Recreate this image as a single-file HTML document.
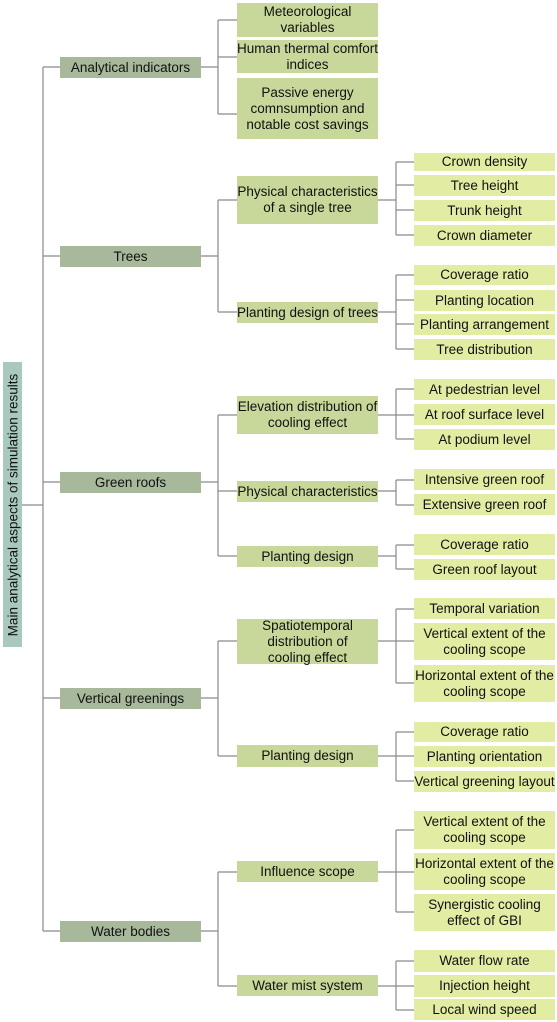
<!DOCTYPE html>
<html><head><meta charset="utf-8"><style>
body{margin:0;width:557px;height:1022px;background:#fff;position:relative;overflow:hidden;font-family:"Liberation Sans",Arial,sans-serif;font-size:13.5px;color:#111}
.b{position:absolute;display:flex;align-items:center;justify-content:center;text-align:center;line-height:16px;box-sizing:border-box;white-space:nowrap}
.l1{left:60px;width:141px;background:#a7b99a}
.l2{left:237px;width:141px;background:#c8d89a}
.l3{left:414px;width:141px;background:#e3eca3}
.l3a{left:237px;width:141px;background:#c8d89a}
svg{position:absolute;left:0;top:0}
#root{position:absolute;left:3px;top:362px;width:19px;height:285px;background:#a9c8be}
#root span{position:absolute;left:50%;top:50%;transform:translate(-50%,-50%) rotate(-90deg);white-space:nowrap;font-size:13.5px}
</style></head><body>
<svg width="557" height="1022" stroke="#8a8a8a" stroke-width="1.2" fill="none">
<path d="M22 505H43M43 67V931M43 67H60M43 256H60M43 482H60M43 698H60M43 931H60"/>
<path d="M201 67H218M218 20V114M218 20H237M218 57H237M218 114H237"/>
<path d="M201 256H218M218 200V312M218 200H237M218 312H237"/>
<path d="M378 200H396M396 162V235M396 162H414M396 185H414M396 210H414M396 235H414"/>
<path d="M378 312H396M396 275V349M396 275H414M396 300H414M396 324H414M396 349H414"/>
<path d="M201 482H218M218 415V556M218 415H237M218 491H237M218 556H237"/>
<path d="M378 415H396M396 389V439M396 389H414M396 415H414M396 439H414"/>
<path d="M378 491H396M396 480V505M396 480H414M396 505H414"/>
<path d="M378 556H396M396 545V569M396 545H414M396 569H414"/>
<path d="M201 698H218M218 641V756M218 641H237M218 756H237"/>
<path d="M378 641H396M396 609V683M396 609H414M396 641H414M396 683H414"/>
<path d="M378 756H396M396 732V781M396 732H414M396 756H414M396 781H414"/>
<path d="M201 931H218M218 872V986M218 872H237M218 986H237"/>
<path d="M378 872H396M396 830V912M396 830H414M396 872H414M396 912H414"/>
<path d="M378 986H396M396 961V1010M396 961H414M396 986H414M396 1010H414"/>
</svg>
<div id="root"><span>Main analytical aspects of simulation results</span></div>

<div class="b l1" style="top:57px;height:21px">Analytical indicators</div>
<div class="b l1" style="top:246px;height:21px">Trees</div>
<div class="b l1" style="top:472px;height:21px">Green roofs</div>
<div class="b l1" style="top:688px;height:21px">Vertical greenings</div>
<div class="b l1" style="top:921px;height:21px">Water bodies</div>

<div class="b l3a" style="top:3px;height:34px;background:#c8d89a">Meteorological<br>variables</div>
<div class="b l3a" style="top:40px;height:33px">Human thermal comfort<br>indices</div>
<div class="b l3a" style="top:78px;height:61px">Passive energy<br>comnsumption and<br>notable cost savings</div>

<div class="b l2" style="top:176px;height:48px">Physical characteristics<br>of a single tree</div>
<div class="b l2" style="top:302px;height:21px">Planting design of trees</div>
<div class="b l3" style="top:153px;height:18px">Crown density</div>
<div class="b l3" style="top:175px;height:21px">Tree height</div>
<div class="b l3" style="top:200px;height:21px">Trunk height</div>
<div class="b l3" style="top:225px;height:21px">Crown diameter</div>
<div class="b l3" style="top:265px;height:20px">Coverage ratio</div>
<div class="b l3" style="top:290px;height:21px">Planting location</div>
<div class="b l3" style="top:314px;height:21px">Planting arrangement</div>
<div class="b l3" style="top:339px;height:21px">Tree distribution</div>

<div class="b l2" style="top:396px;height:38px">Elevation distribution of<br>cooling effect</div>
<div class="b l2" style="top:481px;height:21px">Physical characteristics</div>
<div class="b l2" style="top:546px;height:21px">Planting design</div>
<div class="b l3" style="top:379px;height:21px">At pedestrian level</div>
<div class="b l3" style="top:404px;height:21px">At roof surface level</div>
<div class="b l3" style="top:429px;height:21px">At podium level</div>
<div class="b l3" style="top:469px;height:21px">Intensive green roof</div>
<div class="b l3" style="top:494px;height:21px">Extensive green roof</div>
<div class="b l3" style="top:534px;height:21px">Coverage ratio</div>
<div class="b l3" style="top:559px;height:21px">Green roof layout</div>

<div class="b l2" style="top:619px;height:45px">Spatiotemporal<br>distribution of<br>cooling effect</div>
<div class="b l2" style="top:745px;height:22px">Planting design</div>
<div class="b l3" style="top:598px;height:21px">Temporal variation</div>
<div class="b l3" style="top:623px;height:37px">Vertical extent of the<br>cooling scope</div>
<div class="b l3" style="top:665px;height:37px">Horizontal extent of the<br>cooling scope</div>
<div class="b l3" style="top:722px;height:20px">Coverage ratio</div>
<div class="b l3" style="top:746px;height:21px">Planting orientation</div>
<div class="b l3" style="top:771px;height:21px">Vertical greening layout</div>

<div class="b l2" style="top:861px;height:21px">Influence scope</div>
<div class="b l2" style="top:975px;height:21px">Water mist system</div>
<div class="b l3" style="top:811px;height:38px">Vertical extent of the<br>cooling scope</div>
<div class="b l3" style="top:853px;height:37px">Horizontal extent of the<br>cooling scope</div>
<div class="b l3" style="top:894px;height:37px">Synergistic cooling<br>effect of GBI</div>
<div class="b l3" style="top:950px;height:22px">Water flow rate</div>
<div class="b l3" style="top:975px;height:22px">Injection height</div>
<div class="b l3" style="top:999px;height:21px">Local wind speed</div>
</body></html>
